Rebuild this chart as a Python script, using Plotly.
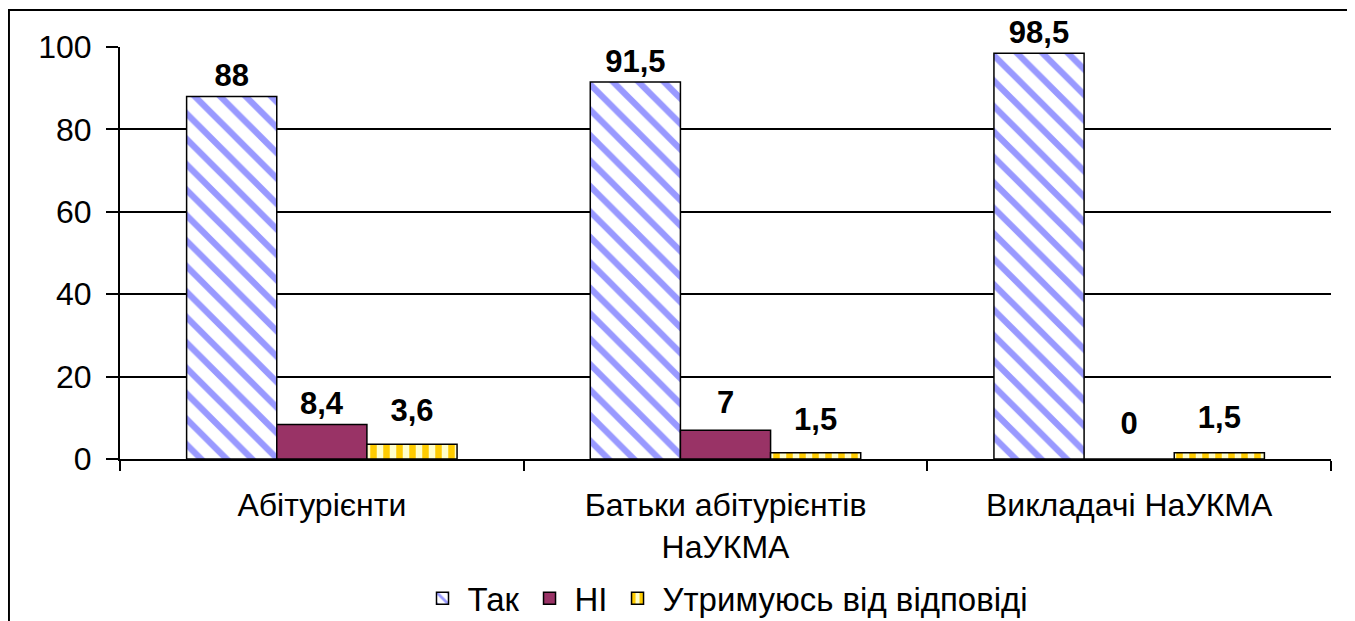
import plotly.graph_objects as go

categories = ["Абітурієнти", "Батьки абітурієнтів<br>НаУКМА", "Викладачі НаУКМА"]
series_names = ["Так", "НІ", "Утримуюсь від відповіді"]
tak = [88, 91.5, 98.5]
ni = [8.4, 7, 0]
utrym = [3.6, 1.5, 1.5]

# extra lift of value labels above short bars (px), as placed in the original
label_lift_px = {"tak": [0, 0, 0], "ni": [0, 7, 15], "utrym": [13, 13, 15]}

font = "Liberation Sans, Arial, sans-serif"
label_font = dict(family=font, size=31, color="black")
px_per_unit = 412 / 100

styles = {
    "tak": dict(color="white", line=dict(color="black", width=1.5),
                pattern=dict(shape="\\", fgcolor="#9999FF", bgcolor="white",
                             size=18, solidity=0.35, fillmode="replace")),
    "ni": dict(color="#993366", line=dict(color="black", width=1.5)),
    "utrym": dict(color="#FFFFCC", line=dict(color="black", width=1.5),
                  pattern=dict(shape="|", fgcolor="#FFCC00", bgcolor="#FFFFCC",
                               size=13, solidity=0.5, fillmode="replace")),
}

fig = go.Figure()
for key, name, vals in [("tak", series_names[0], tak),
                        ("ni", series_names[1], ni),
                        ("utrym", series_names[2], utrym)]:
    fig.add_trace(go.Bar(name=name, x=categories, y=vals, offsetgroup=key,
                         marker=styles[key], hoverinfo="x+y+name"))
    # transparent bar on top of the real one, only to carry the value label
    lift = [p / px_per_unit for p in label_lift_px[key]]
    fig.add_trace(go.Bar(
        x=categories, y=lift, base=vals, offsetgroup=key, showlegend=False,
        marker=dict(color="rgba(0,0,0,0)", line=dict(width=0)),
        text=[f"<b>{v:g}</b>".replace(".", ",") for v in vals],
        textposition="outside", textfont=label_font, cliponaxis=False,
        hoverinfo="skip",
    ))

# page body has an 8px margin, so the figure is 8px smaller and shifted
fig.update_layout(
    width=1347, height=613,
    barmode="group", bargap=0.33, bargroupgap=0,
    separators=", ",
    plot_bgcolor="white", paper_bgcolor="white",
    margin=dict(l=112, r=24, t=39, b=162, autoexpand=False),
    font=dict(family=font, size=32, color="black"),
    showlegend=True,
    legend=dict(orientation="h", x=0.5, xanchor="center", y=-0.338, yanchor="middle",
                font=dict(size=33), itemwidth=40, traceorder="normal",
                bgcolor="rgba(0,0,0,0)"),
    xaxis=dict(showline=True, linecolor="black", linewidth=2,
               ticks="outside", ticklen=10, tickwidth=2, tickcolor="black",
               tickson="boundaries", tickfont=dict(size=32), ticklabelstandoff=17),
    yaxis=dict(range=[0, 100], dtick=20, showline=True, linecolor="black", linewidth=2,
               showgrid=True, gridcolor="black", gridwidth=1.5,
               ticks="outside", ticklen=12, tickwidth=2, tickcolor="black",
               zeroline=False, tickfont=dict(size=32), ticklabelstandoff=8),
    shapes=[dict(type="rect", xref="paper", yref="paper",
                 x0=-0.0917, x1=1.0157, y0=-0.5, y1=1.0898,
                 line=dict(color="black", width=2), fillcolor="rgba(0,0,0,0)",
                 layer="below")],
)

fig.write_html("out.html")
